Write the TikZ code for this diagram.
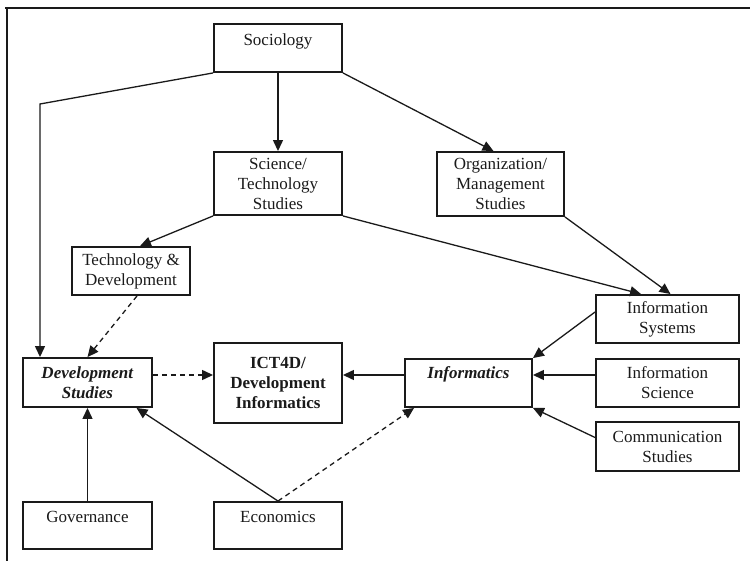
\documentclass[tikz,border=0pt]{standalone}
\usepackage{fontspec}
\setmainfont{Liberation Serif}
\usetikzlibrary{arrows.meta,calc}
\definecolor{ink}{HTML}{1A1A1A}
\begin{document}
\begin{tikzpicture}[x=1pt,y=-1pt,
  box/.style={draw=ink, line width=1.9pt, inner sep=0pt, align=center,
    font=\fontsize{17}{20}\selectfont, text=ink},
  topbox/.style 2 args={box, text height=#1, text depth=#2},
  conn/.style={draw=ink, line width=1.3pt, -{Triangle[length=11pt,width=10pt]}},
  dconn/.style={conn, dash pattern=on 5pt off 4pt},
  frame/.style={draw=ink, line width=2.8pt}
]
\useasboundingbox (0,0) rectangle (750,561);
% frame
\draw[frame] (5,8) -- (750,8);
\draw[frame] (7,8) -- (7,561);

% nodes
\node[topbox={22pt}{26pt}, minimum width=128] (soc) at (278,48) {Sociology};
\node[box, minimum width=128, minimum height=63] (sts) at (278,183.5) {Science/\\Technology\\Studies};
\node[box, minimum width=127, minimum height=64] (org) at (500.5,184) {Organization/\\Management\\Studies};
\node[box, minimum width=118, minimum height=48] (td) at (131,271) {Technology \&\\Development};
\node[box, minimum width=129, minimum height=49] (ds) at (87.5,382.5) {\textbf{\textit{Development}}\\\textbf{\textit{Studies}}};
\node[box, minimum width=128, minimum height=80] (ict) at (278,383) {\textbf{ICT4D/}\\\textbf{Development}\\\textbf{Informatics}};
\node[topbox={20pt}{28pt}, minimum width=127] (inf) at (468.5,383) {\textbf{\textit{Informatics}}};
\node[box, minimum width=143, minimum height=48] (is) at (667.5,319) {Information\\Systems};
\node[box, minimum width=143, minimum height=48] (isci) at (667.5,383) {Information\\Science};
\node[box, minimum width=143, minimum height=49] (comm) at (667.5,446.5) {Communication\\Studies};
\node[topbox={20pt}{27pt}, minimum width=129] (gov) at (87.5,525.5) {Governance};
\node[topbox={20pt}{27pt}, minimum width=128] (eco) at (278,525.5) {Economics};

% connectors
\coordinate (c1) at (40,104);
\draw[conn] (soc.south west) -- (c1) -- (c1 |- ds.north);
\draw[conn] (soc.south) -- (sts.north);
\draw[conn] (soc.south east) -- ($(org.north)+(-7,0)$);
\draw[conn] (sts.south west) -- ($(td.north)+(9,0)$);
\draw[conn] (sts.south east) -- ($(is.north west)+(46,0)$);
\draw[conn] (org.south east) -- ($(is.north)+(3,0)$);
\draw[dconn] ($(td.south)+(6,0)$) -- (ds.north);
\draw[dconn] ($(ds.east)+(0,-7.5)$) -- ($(ict.west)+(0,-8)$);
\draw[conn] ($(inf.west)+(0,-8)$) -- ($(ict.east)+(0,-8)$);
\draw[conn] ($(is.west)+(0,-7)$) -- (inf.north east);
\draw[conn] ($(isci.west)+(0,-8)$) -- ($(inf.east)+(0,-8)$);
\draw[conn] ($(comm.west)+(0,-9)$) -- (inf.south east);
\draw[conn] (gov.north) -- (ds.south);
\draw[conn] (eco.north) -- ($(ds.south)+(49,0)$);
\draw[dconn] (eco.north) -- ($(inf.south west)+(10,0)$);
\end{tikzpicture}
\end{document}
